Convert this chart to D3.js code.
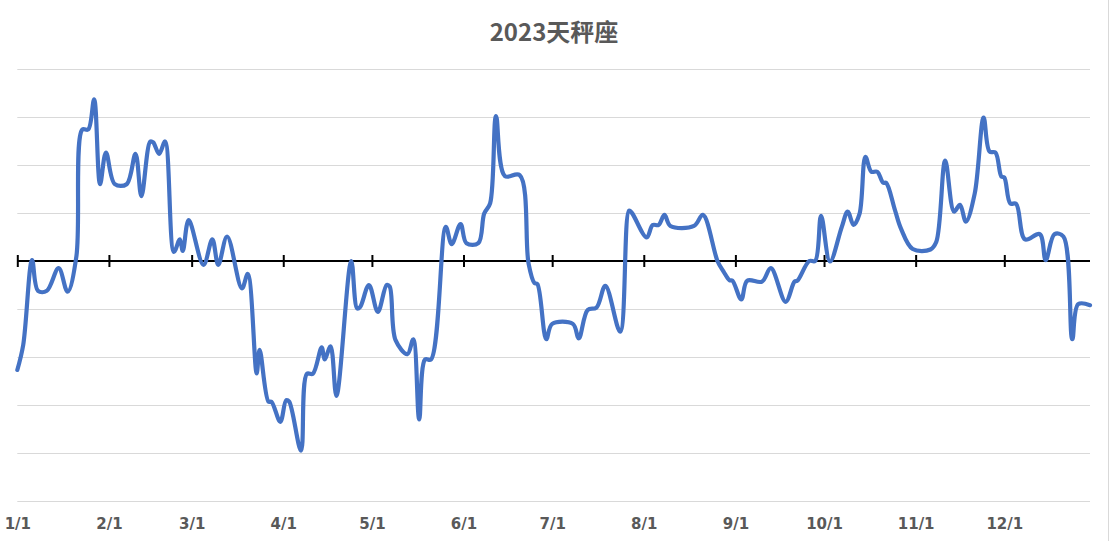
<!DOCTYPE html>
<html>
<head>
<meta charset="utf-8">
<script src="https://cdn.jsdelivr.net/npm/d3@7"></script>
<style>
  html, body { margin: 0; padding: 0; background: #fff; }
  svg { display: block; }
</style>
</head>
<body>
<svg id="chart" width="1110" height="541"></svg>
<script>
// ---- data ----
const title = "2023天秤座";
// day of year (0 = Jan 1) of each data point
const days = [0, 2, 5, 7, 10, 14, 17, 20, 22, 24, 26, 28, 30, 33, 37, 40, 42, 45, 46, 48, 50,
  53, 55, 56, 58, 63, 66, 68, 71, 76, 78, 81, 82, 85, 86, 89, 91, 92, 96, 98, 100,
  103, 104, 106, 108, 113, 115, 116, 119, 122, 125, 126, 128, 132, 134, 136, 138, 140, 145, 147, 150,
  152, 156, 158, 160, 162, 165, 170, 173, 175, 176, 179, 181, 188, 190, 193, 196, 199, 204, 207, 208,
  213, 215, 217, 219, 221, 229, 232, 237, 239, 241, 242, 245, 247, 252, 255, 260, 263, 264, 268, 270,
  272, 275, 279, 281, 283, 285, 287, 289, 291, 293, 294, 297, 299, 303, 309, 311, 314, 317, 319, 321,
  324, 327, 329, 331, 333, 334, 336, 338, 341, 346, 348, 351, 354, 357, 359, 363];
const values = [-2.27, -1.75, 0.02, -0.62, -0.62, -0.15, -0.64, 0.1, 2.74, 2.74, 3.37, 1.6, 2.26, 1.6, 1.6, 2.23, 1.35, 2.49, 2.47, 2.23, 2.49,
  0.19, 0.45, 0.21, 0.85, -0.08, 0.45, -0.08, 0.51, -0.57, -0.27, -2.34, -1.85, -2.93, -2.93, -3.35, -2.9, -2.93, -3.95, -2.35, -2.35,
  -1.8, -2.05, -1.78, -2.81, 0.0, -0.99, -0.96, -0.5, -1.06, -0.5, -0.53, -1.65, -1.94, -1.63, -3.3, -2.05, -2.05, 0.71, 0.35, 0.77,
  0.37, 0.37, 0.99, 1.2, 3.02, 1.77, 1.79, -0.05, -0.46, -0.48, -1.63, -1.31, -1.31, -1.61, -1.02, -0.97, -0.52, -1.47, 1.05, 1.0,
  0.49, 0.75, 0.75, 0.96, 0.73, 0.73, 0.96, -0.01, -0.22, -0.4, -0.41, -0.8, -0.41, -0.43, -0.15, -0.85, -0.43, -0.41, 0.0, 0.0,
  0.94, -0.01, 0.71, 1.03, 0.75, 0.98, 2.17, 1.86, 1.86, 1.63, 1.63, 1.06, 0.68, 0.25, 0.24, 0.4, 2.09, 1.03, 1.17, 0.82,
  1.41, 2.99, 2.28, 2.26, 1.76, 1.74, 1.2, 1.19, 0.45, 0.56, 0.02, 0.56, 0.51, -1.63, -0.9, -0.92];
const monthTicks = ["1/1", "2/1", "3/1", "4/1", "5/1", "6/1", "7/1", "8/1", "9/1", "10/1", "11/1", "12/1"];
const gridValues = [-5, -4, -3, -2, -1, 0, 1, 2, 3, 4];

// ---- build ----
const svg = d3.select("#chart");
const W = 1110, H = 541;
const start = new Date(2023, 0, 1);
const dayToDate = d => d3.timeDay.offset(start, d);
const data = days.map((d, i) => ({ date: dayToDate(d), value: values[i] }));
const tickDates = monthTicks.map(t => { const [m, dd] = t.split("/").map(Number); return new Date(2023, m - 1, dd); });

const x = d3.scaleTime()
  .domain([start, dayToDate(days[days.length - 1])])
  .range([17.3, 1090]);
const y = d3.scaleLinear().domain([-5, 4]).range([501, 69]);

// border on right edge
svg.append("line").attr("x1", 1108.5).attr("x2", 1108.5).attr("y1", 0).attr("y2", H)
  .attr("stroke", "#d9d9d9").attr("stroke-width", 1);

// gridlines
svg.append("g").selectAll("line").data(gridValues.filter(v => v !== 0)).join("line")
  .attr("x1", x.range()[0]).attr("x2", x.range()[1])
  .attr("y1", d => Math.round(y(d)) + 0.5).attr("y2", d => Math.round(y(d)) + 0.5)
  .attr("stroke", "#d9d9d9").attr("stroke-width", 1);

// title
svg.append("text").attr("x", 554).attr("y", 41).attr("text-anchor", "middle")
  .attr("font-family", "'Noto Sans CJK SC', 'Noto Sans', sans-serif")
  .attr("font-weight", "bold").attr("font-size", 24).attr("fill", "#595959")
  .text(title);

// zero axis with cross ticks
const axisG = svg.append("g").attr("transform", `translate(0,${y(0)})`);
axisG.call(d3.axisBottom(x).tickValues(tickDates).tickSize(0).tickFormat(""));
axisG.select(".domain").attr("stroke", "#000").attr("stroke-width", 2).attr("d", `M${x.range()[0]},0H${x.range()[1]}`);
axisG.selectAll(".tick line").attr("y1", -6).attr("y2", 6).attr("stroke", "#000").attr("stroke-width", 2);

// bottom labels
const labelG = svg.append("g").attr("transform", "translate(0,518)");
labelG.call(d3.axisBottom(x).tickValues(tickDates).tickSize(0).tickPadding(0)
  .tickFormat((d, i) => monthTicks[i]));
labelG.select(".domain").remove();
labelG.selectAll("text")
  .attr("font-family", "'DejaVu Sans', Verdana, sans-serif")
  .attr("font-weight", "bold").attr("font-size", 15).attr("fill", "#595959")
  .attr("dy", "0.71em");

// line
const line = d3.line().x(d => x(d.date)).y(d => y(d.value)).curve(d3.curveCatmullRom.alpha(0.5));
svg.append("path").datum(data).attr("d", line)
  .attr("fill", "none").attr("stroke", "#4472C4").attr("stroke-width", 4.2)
  .attr("stroke-linejoin", "round").attr("stroke-linecap", "round");
</script>
</body>
</html>
